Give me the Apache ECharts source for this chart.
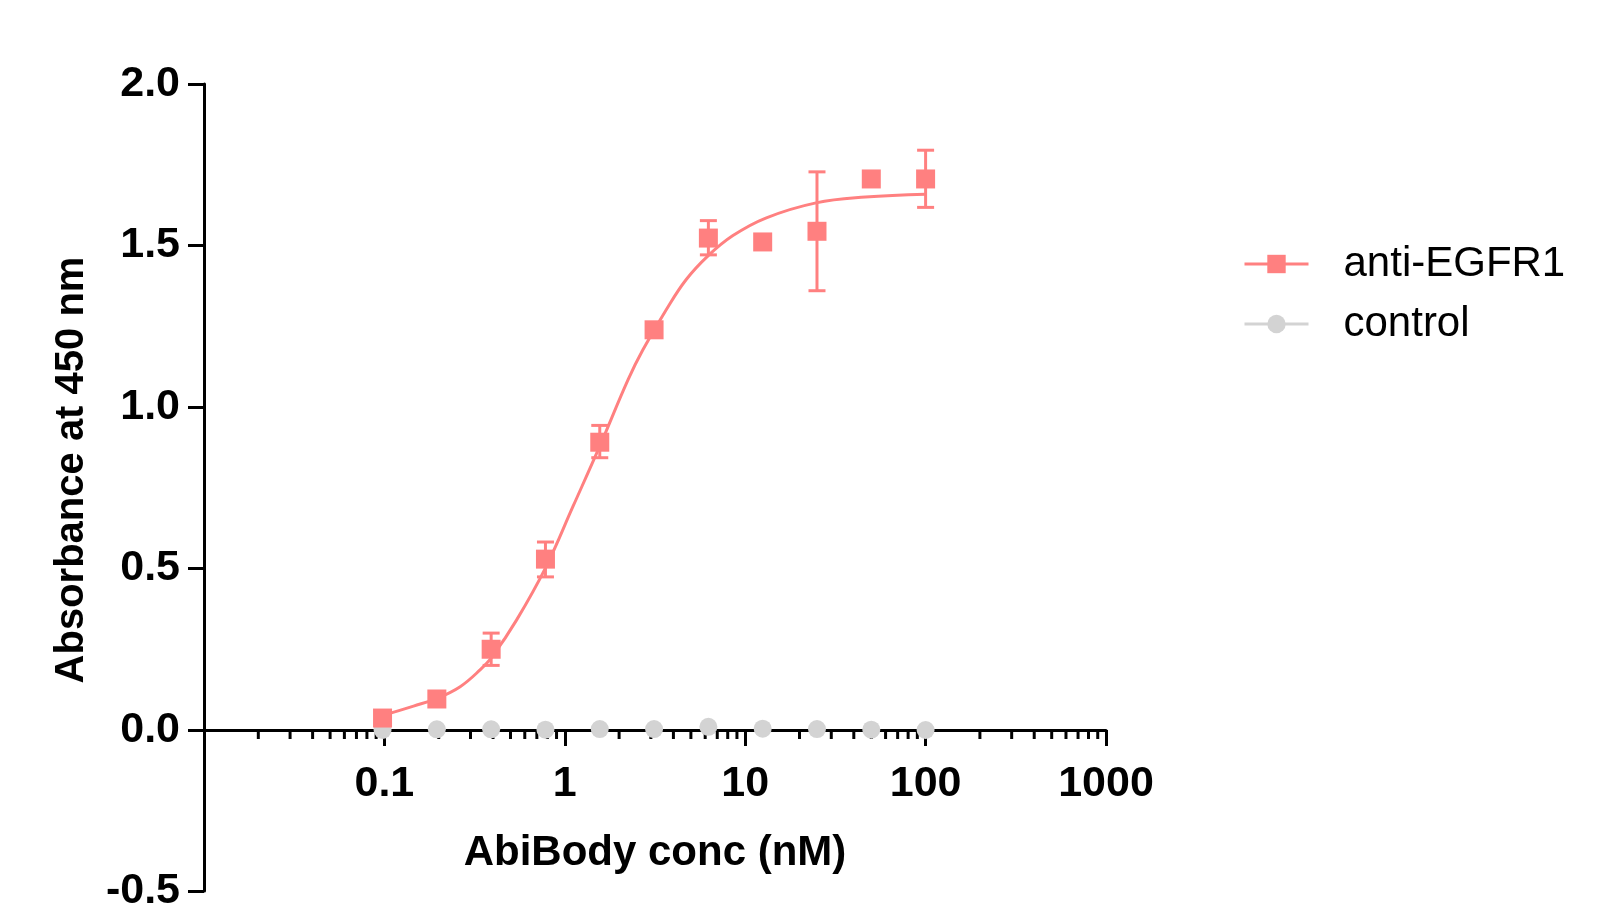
<!DOCTYPE html>
<html>
<head>
<meta charset="utf-8">
<script src="https://cdn.jsdelivr.net/npm/echarts@6/dist/echarts.min.js"></script>
<style>
html, body { margin: 0; padding: 0; background: #fff; }
#chart { width: 1610px; height: 922px; }
</style>
</head>
<body>
<div id="chart"></div>
<script>
// concentrations (nM), 2-fold dilution from 100
var conc = [0.09765625, 0.1953125, 0.390625, 0.78125, 1.5625, 3.125, 6.25, 12.5, 25, 50, 100];
// anti-EGFR1 mean and error bar ends (null = bar hidden by marker)
var egfrMean = [0.037, 0.096, 0.25, 0.529, 0.891, 1.239, 1.523, 1.511, 1.544, 1.706, 1.706];
var egfrLow  = [null, null, 0.20, 0.474, 0.843, 1.225, 1.471, null, 1.360, null, 1.618];
var egfrHigh = [null, null, 0.30, 0.582, 0.943, 1.255, 1.577, null, 1.728, null, 1.795];
// control
var controlMean = [0.0, 0.002, 0.002, 0.001, 0.003, 0.003, 0.01, 0.004, 0.003, 0.001, 0.0];
// fitted curve
var fitX = [0.0977, 0.145, 0.198, 0.263, 0.339, 0.396, 0.541, 0.788, 1.11, 1.56, 2.24, 2.71, 3.65, 4.70, 6.22, 8.51, 13.0, 24.7, 46.4, 100];
var fitY = [0.045, 0.074, 0.099, 0.134, 0.186, 0.227, 0.341, 0.506, 0.692, 0.878, 1.084, 1.177, 1.301, 1.394, 1.468, 1.530, 1.585, 1.632, 1.650, 1.659];
// log axis minor ticks
var decades = [0.01, 0.1, 1, 10, 100];
var minorSteps = [2, 3, 4, 5, 6, 7, 8, 9];

var PINK = '#FF8080';
var GREY = '#D3D3D3';
var FONT = 'Liberation Sans, Arial, sans-serif';

function zip(a, b) {
    var out = [];
    for (var i = 0; i < a.length; i++) out.push([a[i], b[i]]);
    return out;
}

var errData = [];
for (var i = 0; i < conc.length; i++) {
    if (egfrLow[i] != null) errData.push([conc[i], egfrLow[i], egfrHigh[i]]);
}
var minorData = [];
decades.forEach(function (d) {
    minorSteps.forEach(function (s) { minorData.push([d * s, 0]); });
});

var dom = document.getElementById('chart');
var myChart = echarts.init(dom);

var axisLine = { show: true, onZero: false, lineStyle: { color: '#000', width: 3 } };
var labelStyle = { fontSize: 43, fontWeight: 'bold', fontFamily: FONT, color: '#000' };

var option = {
    animation: false,
    backgroundColor: '#fff',
    // upper grid: 0 .. 2.0, lower grid: -0.5 .. 0 (same scale), x axis sits between them
    grid: [
        { left: 204, right: 504, top: 84, height: 646, containLabel: false, outerBoundsMode: 'none' },
        { left: 204, right: 504, top: 730, height: 161, containLabel: false, outerBoundsMode: 'none' }
    ],
    legend: {
        orient: 'vertical',
        left: 1243,
        top: 243,
        padding: 0,
        itemWidth: 64,
        itemHeight: 23,
        itemGap: 18,
        selectedMode: false,
        textStyle: { fontSize: 42, fontFamily: FONT, color: '#000', padding: [0, 0, 0, 30] },
        data: [
            { name: 'anti-EGFR1', lineStyle: { opacity: 1, width: 3, color: PINK } },
            { name: 'control', lineStyle: { opacity: 1, width: 3, color: GREY } }
        ]
    },
    xAxis: [
        {
            gridIndex: 0,
            type: 'log',
            logBase: 10,
            min: 0.01,
            max: 1000,
            position: 'bottom',
            name: 'AbiBody conc (nM)',
            nameLocation: 'middle',
            nameGap: 102,
            nameTextStyle: { fontSize: 42, fontWeight: 'bold', fontFamily: FONT, color: '#000' },
            axisLine: axisLine,
            axisTick: { length: 16, lineStyle: { color: '#000', width: 3 } },
            splitLine: { show: false },
            axisLabel: Object.assign({
                margin: 33,
                formatter: function (v) { return v < 0.05 ? '' : String(v); }
            }, labelStyle)
        },
        {
            gridIndex: 1,
            type: 'log',
            logBase: 10,
            min: 0.01,
            max: 1000,
            show: false
        }
    ],
    yAxis: [
        {
            gridIndex: 0,
            type: 'value',
            min: 0,
            max: 2,
            interval: 0.5,
            name: 'Absorbance at 450 nm',
            nameLocation: 'middle',
            nameGap: 112,
            nameRotate: 90,
            nameTextStyle: { fontSize: 40, fontWeight: 'bold', fontFamily: FONT, color: '#000', padding: [0, 126, 0, 0] },
            axisLine: axisLine,
            axisTick: { show: true, length: 16, lineStyle: { color: '#000', width: 3 } },
            splitLine: { show: false },
            axisLabel: Object.assign({
                margin: 24,
                formatter: function (v) { return v.toFixed(1); }
            }, labelStyle)
        },
        {
            gridIndex: 1,
            type: 'value',
            min: -0.5,
            max: 0,
            interval: 0.5,
            axisLine: axisLine,
            axisTick: { show: true, length: 16, lineStyle: { color: '#000', width: 3 } },
            splitLine: { show: false },
            axisLabel: Object.assign({
                margin: 24,
                formatter: function (v) { return v < 0 ? v.toFixed(1) : ''; }
            }, labelStyle)
        }
    ],
    series: [
        {
            name: 'anti-EGFR1',
            type: 'line',
            data: zip(conc, egfrMean),
            symbol: 'rect',
            symbolSize: 19,
            itemStyle: { color: PINK },
            lineStyle: { opacity: 0 },
            clip: false,
            z: 4
        },
        {
            name: 'fit',
            type: 'line',
            data: zip(fitX, fitY),
            smooth: 0.4,
            showSymbol: false,
            symbol: 'none',
            lineStyle: { color: PINK, width: 3 },
            z: 3
        },
        {
            name: 'err',
            type: 'custom',
            data: errData,
            encode: { x: 0, y: [1, 2] },
            z: 3,
            renderItem: function (params, api) {
                var lo = api.coord([api.value(0), api.value(1)]);
                var hi = api.coord([api.value(0), api.value(2)]);
                var w = 8.5;
                var st = { stroke: PINK, lineWidth: 3 };
                return {
                    type: 'group',
                    children: [
                        { type: 'line', shape: { x1: lo[0], y1: lo[1], x2: hi[0], y2: hi[1] }, style: st },
                        { type: 'line', shape: { x1: lo[0] - w, y1: lo[1], x2: lo[0] + w, y2: lo[1] }, style: st },
                        { type: 'line', shape: { x1: hi[0] - w, y1: hi[1], x2: hi[0] + w, y2: hi[1] }, style: st }
                    ]
                };
            }
        },
        {
            name: 'minorTicks',
            type: 'custom',
            data: minorData,
            encode: { x: 0, y: 1 },
            z: 1,
            silent: true,
            clip: false,
            renderItem: function (params, api) {
                var p = api.coord([api.value(0), 0]);
                return {
                    type: 'line',
                    shape: { x1: p[0], y1: p[1], x2: p[0], y2: p[1] + 9 },
                    style: { stroke: '#000', lineWidth: 3 }
                };
            }
        },
        {
            name: 'control',
            type: 'line',
            data: zip(conc, controlMean),
            symbol: 'circle',
            symbolSize: 18,
            itemStyle: { color: GREY },
            lineStyle: { opacity: 0 },
            clip: false,
            z: 2
        }
    ]
};

myChart.setOption(option, true);
</script>
</body>
</html>
